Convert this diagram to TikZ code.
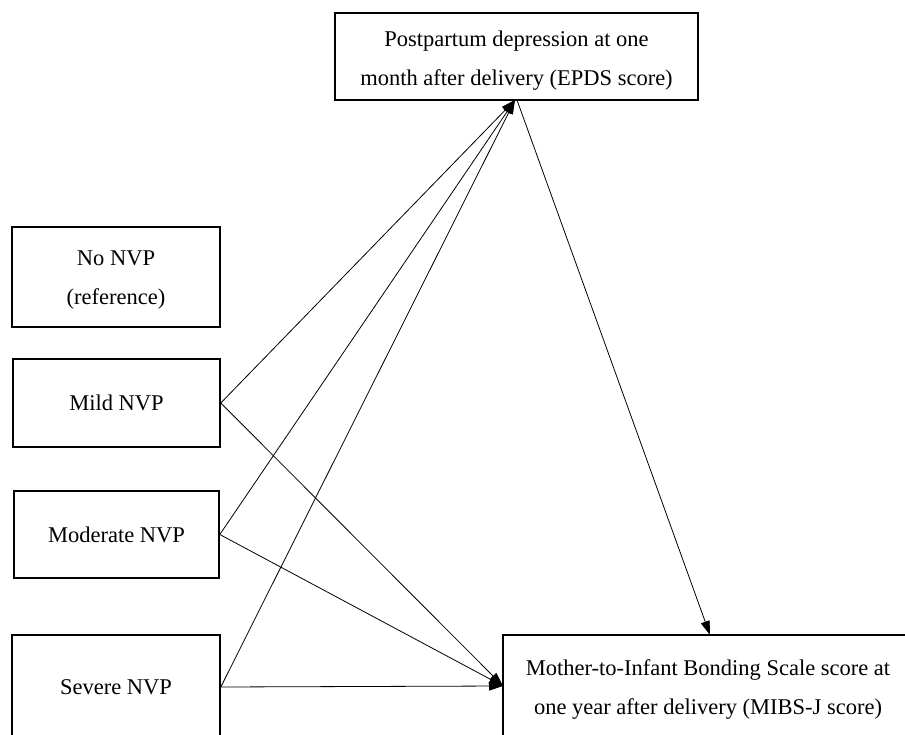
\documentclass[tikz,border=0pt]{standalone}
\usepackage{fontspec}
\setmainfont{Liberation Serif}
\usetikzlibrary{arrows.meta}
\begin{document}
\begin{tikzpicture}[x=1pt,y=-1pt,
  box/.style={draw, line width=1.6pt, align=center, inner sep=0pt,
    font=\fontsize{22.5}{39}\selectfont},
  label/.style={align=center, inner sep=0pt, font=\fontsize{22.5}{39}\selectfont},
  link/.style={line width=0.8pt, -{Triangle[length=14pt,width=9pt]}}]
\useasboundingbox (0,0) rectangle (905,735);
\node[box, minimum width=363pt, minimum height=87pt] (epds) at (516.5,56.5) {};
\node[label] (epdstext) at (516.5,61)
  {Postpartum depression at one\\month after delivery (EPDS score)};
\node[box, minimum width=208pt, minimum height=100pt] (no) at (116,277) {};
\node[label] (notext) at (116,280) {No NVP\\(reference)};
\node[box, minimum width=207pt, minimum height=88pt] (mild) at (116.5,403)
  {Mild NVP};
\node[box, minimum width=205pt, minimum height=87pt] (mod) at (116.5,534.5)
  {Moderate NVP};
\node[box, minimum width=208pt, minimum height=104pt] (sev) at (116,687)
  {Severe NVP};
\node[box, minimum width=407pt, minimum height=105pt] (mibs) at (706.5,687.5) {};
\node[label] (mibstext) at (708,690)
  {Mother-to-Infant Bonding Scale score at\\one year after delivery (MIBS-J score)};
\coordinate (epdsin) at (515,100);
\coordinate (epdsout) at (517,100);
\coordinate (mibstop) at (710,635);
\coordinate (mibsin) at (503,686);
\draw[link] (mild.east) -- (epdsin);
\draw[link] (mod.east) -- (epdsin);
\draw[link] (sev.east) -- (epdsin);
\draw[link] (mild.east) -- (mibsin);
\draw[link] (mod.east) -- (mibsin);
\draw[link] (sev.east) -- (mibsin);
\draw[link] (epdsout) -- (mibstop);
\end{tikzpicture}
\end{document}
